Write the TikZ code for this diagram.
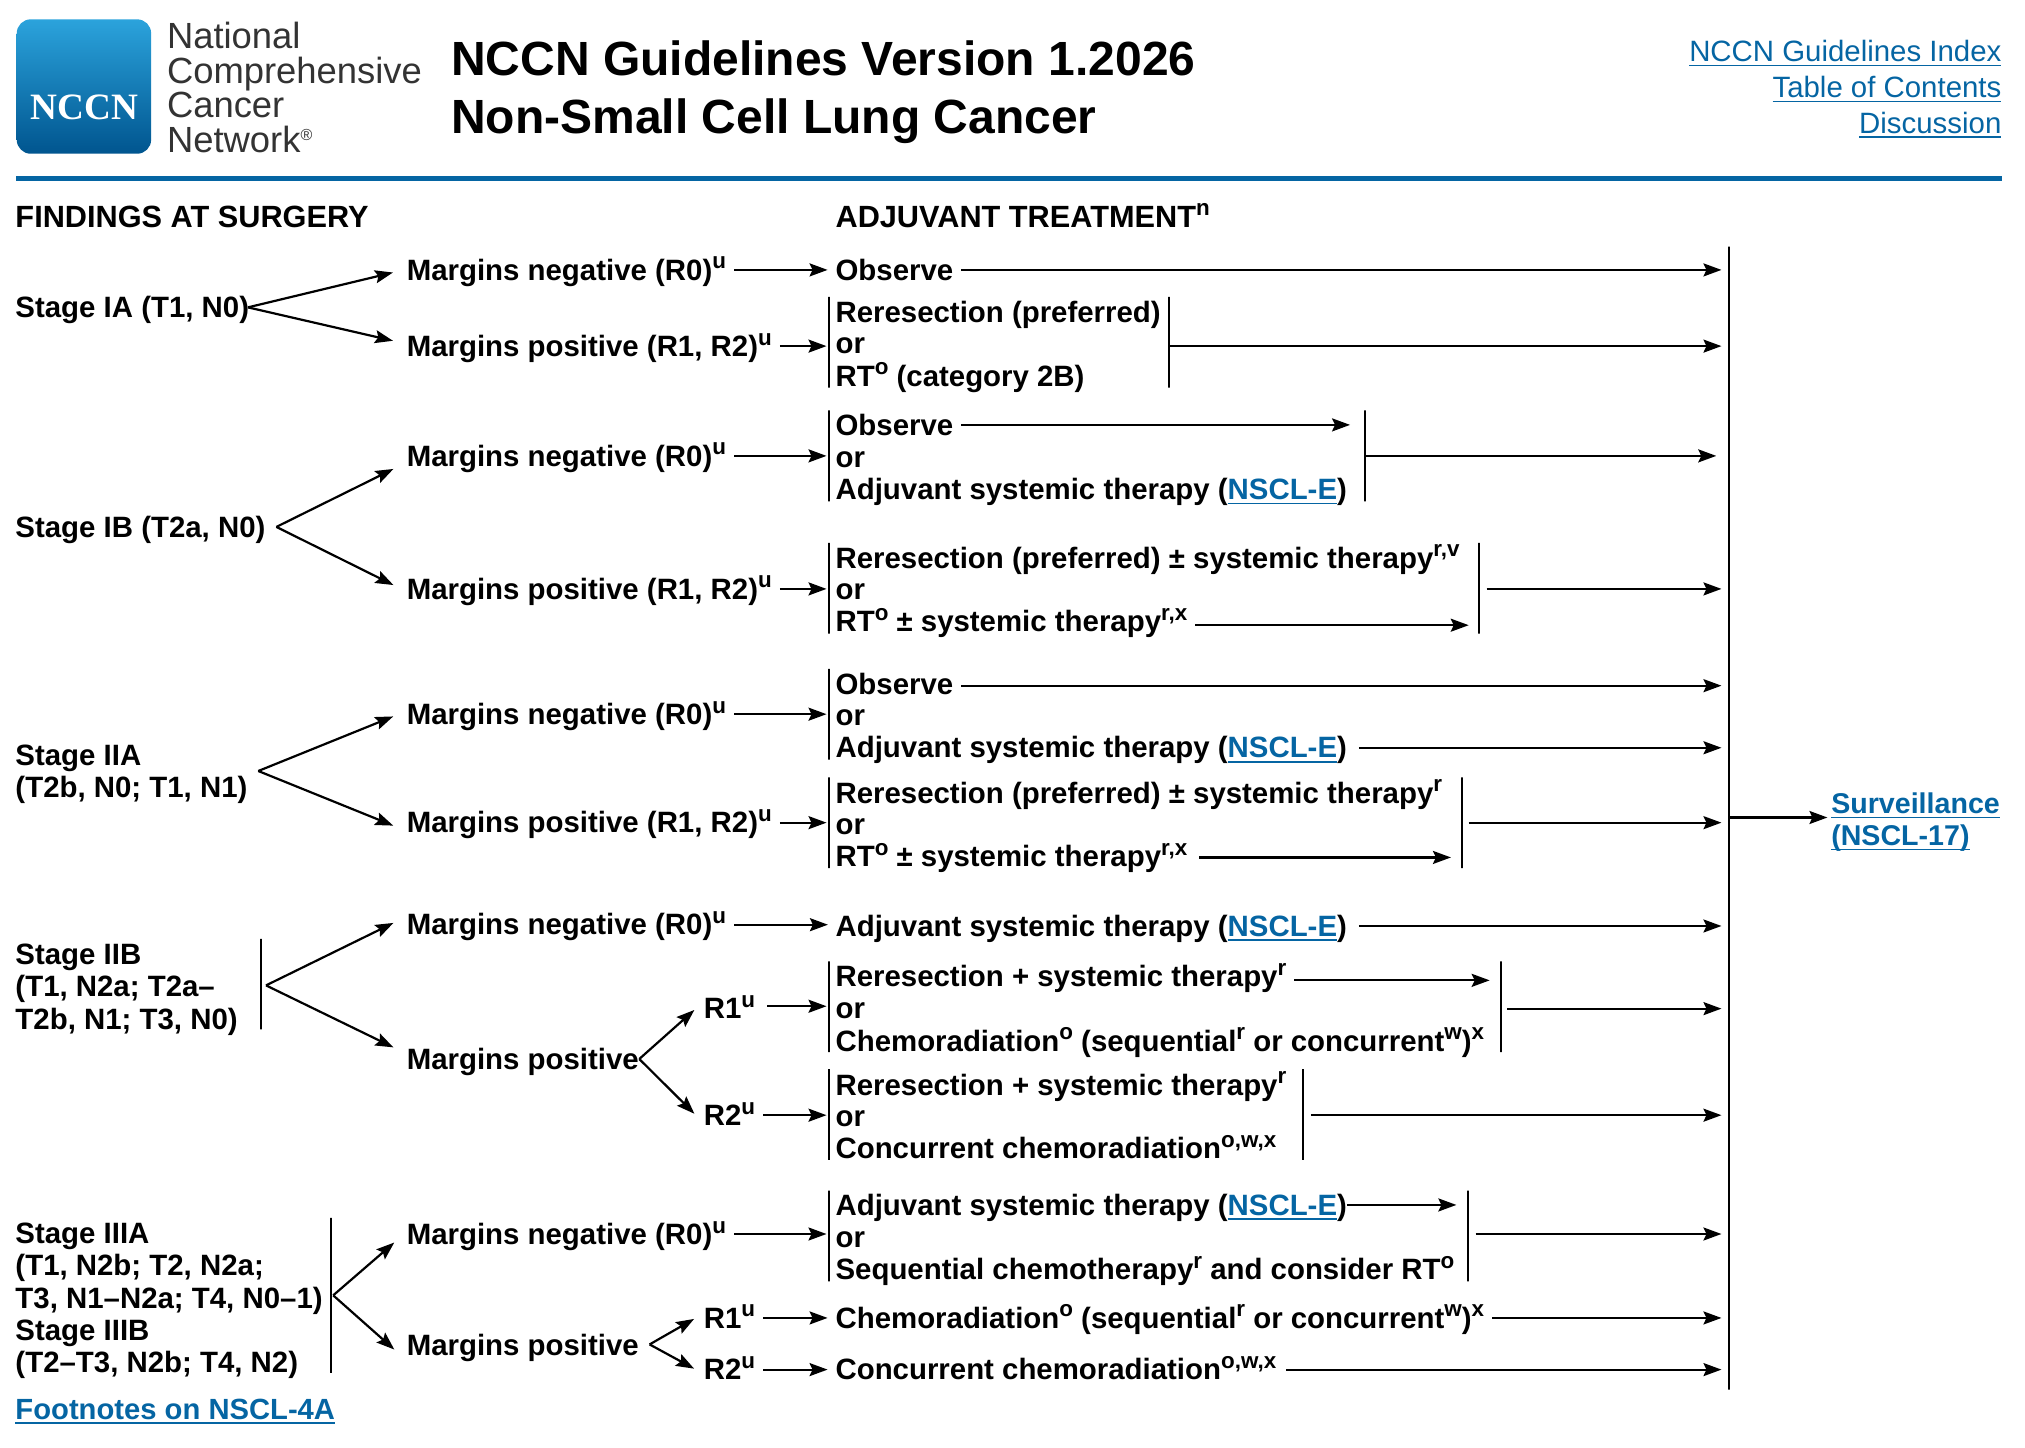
\documentclass[tikz,border=0pt]{standalone}
\usepackage{fontspec}
\setmainfont{Liberation Sans}
\newfontfamily\logofont{Liberation Serif}
\usetikzlibrary{arrows.meta}
\definecolor{nccnblue}{HTML}{0565A3}
\definecolor{logotop}{HTML}{2BA3DC}
\definecolor{logobot}{HTML}{00558F}
\newcommand{\su}[1]{\raisebox{5.6pt}{\fontsize{11.2}{12}\selectfont #1}}
\newcommand{\lnk}[1]{{\color{nccnblue}\setbox0=\hbox{#1}\rlap{\raisebox{-2.3pt}{\rule{\wd0}{0.75pt}}}\box0}}
\tikzset{
  lbl/.style={font=\fontsize{14.7}{16.1}\selectfont\bfseries, inner sep=0pt, outer sep=4pt, xshift=-4pt, anchor=west, text height=11.6pt, text depth=1.4pt},
  head/.style={lbl, font=\fontsize{15.35}{16}\selectfont\bfseries},
  vbar/.style={draw, inner sep=0pt, outer sep=0pt, minimum width=0pt, line width=1pt},
  brk/.style={vbar, minimum height=45.4pt},
  arr/.style={-{Stealth[length=9pt,width=6.5pt,inset=1.5pt]}, line width=1.1pt},
  tomain/.style={arr, shorten >=3.9pt},
  tobar/.style={arr, shorten >=1.3pt},
  branch/.style={arr, shorten >=3pt}
}
\begin{document}
\begin{tikzpicture}[x=0.6457pt, y=-0.6457pt]
  \useasboundingbox (0,0) rectangle (1568,1121.2);

  % Logo
  \node[rounded corners=7pt, top color=logotop, bottom color=logobot, minimum width=67.2pt, minimum height=67.2pt, inner sep=0pt] (logo) at (65,67) {};
  \node[font=\logofont\fontsize{18.6}{20}\selectfont\bfseries, text=white, inner sep=0pt] (logotxt) at (65.5,83) {NCCN};
  \node[font=\fontsize{18.2}{17.4}\selectfont, text=black!80, inner sep=0pt, anchor=north west, align=left] (network) at (129,16.7) {National\\Comprehensive\\Cancer\\Network\raisebox{6pt}{\fontsize{8}{8}\selectfont\textregistered}};

  % Title
  \node[font=\fontsize{24}{29}\selectfont\bfseries, inner sep=0pt, anchor=west, align=left] (title) at (349,71.5) {NCCN Guidelines Version 1.2026\\Non-Small Cell Lung Cancer};
  \node[font=\fontsize{14.7}{17.8}\selectfont, inner sep=0pt, anchor=east, align=right] (links) at (1550,69) {\lnk{NCCN Guidelines Index}\\\lnk{Table of Contents}\\\lnk{Discussion}};
  \node[fill=nccnblue, inner sep=0pt, minimum height=2.6pt, minimum width=993pt] (rule) at (781,138.5) {};

  % Headers
  \node[head] (findings) at (12,168) {FINDINGS AT SURGERY};
  \node[head] (adjuvant) at (647,168) {ADJUVANT TREATMENT\su{n}};

  % Main line and surveillance
  \node[vbar, minimum height=571.5pt] (main) at (1339,633.5) {};
  \node[lbl, font=\fontsize{14.3}{16}\selectfont\bfseries] (surv1) at (1418,622) {\lnk{Surveillance}};
  \node[lbl, font=\fontsize{14.3}{16}\selectfont\bfseries] (surv2) at (1418,647) {\lnk{(NSCL-17)}};
  \coordinate (survin) at (1415,633);
  \draw[arr] (main |- survin) -- (survin);

  % Stage IA
  \node[lbl] (st1) at (12,238) {Stage IA (T1, N0)};
  \node[lbl] (mn1) at (315,209) {Margins negative (R0)\su{u}};
  \node[lbl] (mp1) at (315,268) {Margins positive (R1, R2)\su{u}};
  \node[lbl] (ob1) at (647,209) {Observe};
  \node[brk] (b1l) at (642,265) {};
  \node[lbl] (a1) at (647,242) {Reresection (preferred)};
  \node[lbl] (a2) at (647,266) {or};
  \node[lbl] (a3) at (647,291) {RT\su{o} (category 2B)};
  \node[brk] (b1r) at (905,265) {};
  \coordinate (st1tip) at (192,238);
  \draw[branch] (st1tip) -- ([yshift=-0.6pt]mn1.west);
  \draw[branch] (st1tip) -- ([yshift=2pt]mp1.west);
  \draw[arr] (mn1.east) -- (ob1.west);
  \draw[tobar] (mp1.east) -- (mp1.east -| b1l.west);
  \draw[tomain] (ob1.east) -- (ob1.east -| main.west);
  \draw[tomain] (b1r.center |- mp1.east) -- (mp1.east -| main.west);

  % Stage IB
  \node[lbl] (st2) at (12,408) {Stage IB (T2a, N0)};
  \node[lbl] (mn2) at (315,353) {Margins negative (R0)\su{u}};
  \node[lbl] (mp2) at (315,456) {Margins positive (R1, R2)\su{u}};
  \node[brk] (b2l) at (642,353) {};
  \node[lbl] (c1) at (647,329) {Observe};
  \node[lbl] (c2) at (647,354) {or};
  \node[lbl] (c3) at (647,379) {Adjuvant systemic therapy (\lnk{NSCL-E})};
  \node[brk] (b2r) at (1057,353) {};
  \node[brk] (b3l) at (642,455.5) {};
  \node[lbl] (d1) at (647,432) {Reresection (preferred) ± systemic therapy\su{r,v}};
  \node[lbl] (d2) at (647,456) {or};
  \node[lbl] (d3) at (647,481) {RT\su{o} ± systemic therapy\su{r,x}};
  \node[brk] (b3r) at (1145,455.5) {};
  \coordinate (st2tip) at (214,408);
  \draw[branch] (st2tip) -- ([yshift=-5.2pt]mn2.west);
  \draw[branch] (st2tip) -- ([yshift=0.6pt]mp2.west);
  \draw[tobar] (mn2.east) -- (mn2.east -| b2l.west);
  \draw[tobar] (mp2.east) -- (mp2.east -| b3l.west);
  \draw[arr, shorten >=7.5pt] (c1.east) -- (c1.east -| b2r.west);
  \draw[arr, shorten >=6.5pt] (b2r.center |- mn2.east) -- (mn2.east -| main.west);
  \draw[arr, shorten >=5pt] ([yshift=-2pt]d3.east) -- ([yshift=-2pt]d3.east -| b3r.west);
  \draw[tomain, shorten <=3.9pt] (b3r.center |- mp2.east) -- (mp2.east -| main.west);

  % Stage IIA
  \node[lbl] (st3a) at (12,585) {Stage IIA};
  \node[lbl] (st3b) at (12,610) {(T2b, N0; T1, N1)};
  \node[lbl] (mn3) at (315,553) {Margins negative (R0)\su{u}};
  \node[lbl] (mp3) at (315,637) {Margins positive (R1, R2)\su{u}};
  \node[brk] (b4l) at (642,553) {};
  \node[lbl] (e1) at (647,530) {Observe};
  \node[lbl] (e2) at (647,554) {or};
  \node[lbl] (e3) at (647,579) {Adjuvant systemic therapy (\lnk{NSCL-E})};
  \node[brk] (b5l) at (642,637) {};
  \node[lbl] (f1) at (647,614) {Reresection (preferred) ± systemic therapy\su{r}};
  \node[lbl] (f2) at (647,638) {or};
  \node[lbl] (f3) at (647,663) {RT\su{o} ± systemic therapy\su{r,x}};
  \node[brk] (b5r) at (1132,637) {};
  \coordinate (st3tip) at (200,597);
  \draw[branch] (st3tip) -- (mn3.west);
  \draw[branch] (st3tip) -- ([yshift=-2.6pt]mp3.west);
  \draw[tobar] (mn3.east) -- (mn3.east -| b4l.west);
  \draw[tobar] (mp3.east) -- (mp3.east -| b5l.west);
  \draw[tomain] ([yshift=-0.6pt]e1.east) -- ([yshift=-0.6pt]e1.east -| main.west);
  \draw[tomain, shorten <=2pt] (e3.east) -- (e3.east -| main.west);
  \draw[arr, shorten >=5.5pt, shorten <=2pt] ([yshift=-0.6pt]f3.east) -- ([yshift=-0.6pt]f3.east -| b5r.west);
  \draw[tomain, shorten <=3.3pt] (b5r.center |- mp3.east) -- (mp3.east -| main.west);

  % Stage IIB
  \node[lbl] (st4a) at (12,739) {Stage IIB};
  \node[lbl] (st4b) at (12,764) {(T1, N2a; T2a–};
  \node[lbl] (st4c) at (12,789) {T2b, N1; T3, N0)};
  \node[vbar, minimum height=45.2pt] (st4bar) at (202,762) {};
  \node[lbl] (mn4) at (315,716) {Margins negative (R0)\su{u}};
  \node[lbl] (mp4) at (315,820) {Margins positive};
  \node[lbl] (r41) at (545,781) {R1\su{u}};
  \node[lbl] (r42) at (545,863.5) {R2\su{u}};
  \node[lbl] (g0) at (647,717) {Adjuvant systemic therapy (\lnk{NSCL-E})};
  \node[brk] (b6l) at (642,779.5) {};
  \node[lbl] (g1) at (647,756) {Reresection + systemic therapy\su{r}};
  \node[lbl] (g2) at (647,781) {or};
  \node[lbl] (g3) at (647,806) {Chemoradiation\su{o} (sequential\su{r} or concurrent\su{w})\su{x}};
  \node[brk] (b6r) at (1162,779.5) {};
  \node[brk] (b7l) at (642,863) {};
  \node[lbl] (h1) at (647,840) {Reresection + systemic therapy\su{r}};
  \node[lbl] (h2) at (647,864) {or};
  \node[lbl] (h3) at (647,889) {Concurrent chemoradiation\su{o,w,x}};
  \node[brk] (b7r) at (1009,863) {};
  \coordinate (st4tip) at (206,763);
  \coordinate (mp4tip) at (495,820);
  \draw[branch] (st4tip) -- ([yshift=2.2pt]mn4.west);
  \draw[branch] (st4tip) -- ([yshift=4.5pt]mp4.west);
  \draw[tobar, shorten >=0.6pt] (mn4.east) -- (mn4.east -| b6l.west);
  \draw[tomain, shorten <=2pt] (g0.east) -- (g0.east -| main.west);
  \draw[branch, shorten >=1pt] (mp4tip) -- (r41.west);
  \draw[branch, shorten >=1pt] (mp4tip) -- (r42.west);
  \draw[tobar, shorten <=2pt] ([yshift=1.2pt]r41.east) -- ([yshift=1.2pt]r41.east -| b6l.west);
  \draw[tobar] (r42.east) -- (r42.east -| b7l.west);
  \draw[arr, shorten >=5.5pt] ([yshift=-2pt]g1.east) -- ([yshift=-2pt]g1.east -| b6r.west);
  \draw[tomain, shorten <=3.3pt] (b6r.center |- g2.east) -- (g2.east -| main.west);
  \draw[tomain, shorten <=3.9pt] (b7r.center |- r42.east) -- (r42.east -| main.west);

  % Stage IIIA / IIIB
  \node[lbl] (st5a) at (12,955) {Stage IIIA};
  \node[lbl] (st5b) at (12,980) {(T1, N2b; T2, N2a;};
  \node[lbl] (st5c) at (12,1005) {T3, N1–N2a; T4, N0–1)};
  \node[lbl] (st5d) at (12,1030) {Stage IIIB};
  \node[lbl] (st5e) at (12,1055) {(T2–T3, N2b; T4, N2)};
  \node[vbar, minimum height=77.5pt] (st5bar) at (256,1003) {};
  \node[lbl] (mn5) at (315,955.5) {Margins negative (R0)\su{u}};
  \node[lbl] (mp5) at (315,1042) {Margins positive};
  \node[lbl] (r51) at (545,1020.5) {R1\su{u}};
  \node[lbl] (r52) at (545,1060.5) {R2\su{u}};
  \node[brk] (b8l) at (642,957) {};
  \node[lbl] (k1) at (647,933) {Adjuvant systemic therapy (\lnk{NSCL-E})};
  \node[lbl] (k2) at (647,958) {or};
  \node[lbl] (k3) at (647,983) {Sequential chemotherapy\su{r} and consider RT\su{o}};
  \node[brk] (b8r) at (1137,957) {};
  \node[lbl] (m1) at (647,1020.5) {Chemoradiation\su{o} (sequential\su{r} or concurrent\su{w})\su{x}};
  \node[lbl] (m2) at (647,1060.5) {Concurrent chemoradiation\su{o,w,x}};
  \coordinate (st5tip) at (258,1003);
  \coordinate (mp5tip) at (503,1041);
  \draw[branch] (st5tip) -- ([yshift=-2.3pt]mn5.west);
  \draw[branch] (st5tip) -- ([yshift=-3.9pt]mp5.west);
  \draw[tobar] (mn5.east) -- (mn5.east -| b8l.west);
  \draw[branch, shorten >=1pt] (mp5tip) -- (r51.west);
  \draw[branch, shorten >=1pt] (mp5tip) -- (r52.west);
  \draw[arr] (r51.east) -- (m1.west);
  \draw[arr] (r52.east) -- (m2.west);
  \draw[arr, shorten >=6pt, shorten <=-4pt] (k1.east) -- (k1.east -| b8r.west);
  \draw[tomain, shorten <=3.6pt] (b8r.center |- mn5.east) -- (mn5.east -| main.west);
  \draw[tomain] (m1.east) -- (m1.east -| main.west);
  \draw[tomain, shorten <=1pt] (m2.east) -- (m2.east -| main.west);

  % Footnotes
  \node[lbl, font=\fontsize{14.6}{16}\selectfont\bfseries] (foot) at (12,1091) {\lnk{Footnotes on NSCL-4A}};
\end{tikzpicture}
\end{document}
